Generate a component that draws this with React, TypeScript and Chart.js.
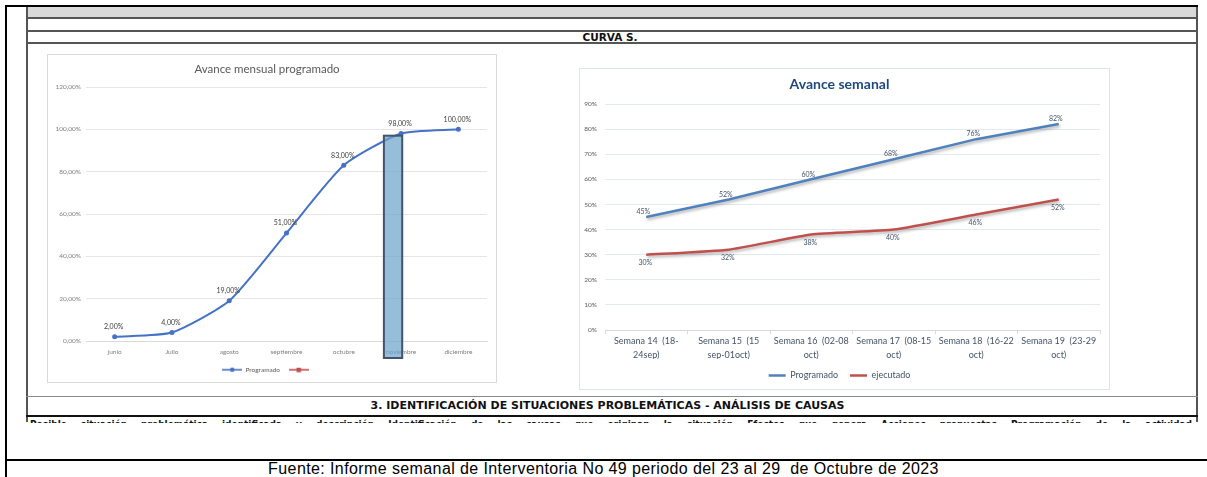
import React, { useEffect, useRef } from "react";
import { Chart, registerables } from "chart.js";

Chart.register(...registerables);

// ---------- Data ----------
const monthLabels = ["junio", "Julio", "agosto", "septiembre", "octubre", "noviembre", "diciembre"];
const monthlyProgramado = [2, 4, 19, 51, 83, 98, 100];
const monthlyEjecutado: (number | null)[] = [null, null, null, null, null, null, null];
const monthlyTickStep = 20;
const monthlyMax = 120;
const highlightedMonth = "noviembre";

const weekLabels = [
  ["Semana 14  (18-", "24sep)"],
  ["Semana 15  (15", "sep-01oct)"],
  ["Semana 16  (02-08", "oct)"],
  ["Semana 17  (08-15", "oct)"],
  ["Semana 18  (16-22", "oct)"],
  ["Semana 19  (23-29", "oct)"],
];
const weeklyProgramado = [45, 52, 60, 68, 76, 82];
const weeklyEjecutado = [30, 32, 38, 40, 46, 52];
const weeklyTickStep = 10;
const weeklyMax = 90;

const FONT = "Lato, 'Noto Sans', sans-serif";

function pctComma(v: number) {
  return v.toFixed(2).replace(".", ",") + "%";
}

function makeMarker(color: string, shape: "circle" | "square") {
  const c = document.createElement("canvas");
  c.width = 20;
  c.height = 8;
  const g = c.getContext("2d")!;
  g.strokeStyle = color;
  g.lineWidth = 1.6;
  g.beginPath();
  g.moveTo(0, 4);
  g.lineTo(20, 4);
  g.stroke();
  g.fillStyle = color;
  if (shape === "circle") {
    g.beginPath();
    g.arc(10, 4, 2.3, 0, Math.PI * 2);
    g.fill();
  } else {
    g.fillRect(8, 2, 4.5, 4.5);
  }
  return c;
}

function MonthlyChart() {
  const ref = useRef<HTMLCanvasElement>(null);
  useEffect(() => {
    const canvas = ref.current!;
    const blue = "#4472c4";
    const red = "#c0504d";
    const markers = [makeMarker(blue, "circle"), makeMarker(red, "square")];

    const labelsPlugin = {
      id: "monthlyValueLabels",
      afterDatasetsDraw(chart: any) {
        const ctx = chart.ctx;
        const meta = chart.getDatasetMeta(0);
        ctx.save();
        ctx.font = `7px ${FONT}`;
        ctx.fillStyle = "#404040";
        ctx.textAlign = "center";
        ctx.textBaseline = "middle";
        meta.data.forEach((pt: any, i: number) => {
          const v = monthlyProgramado[i];
          ctx.fillText(pctComma(v), pt.x - 1, pt.y - 10);
        });
        ctx.restore();
      },
    };

    const highlightPlugin = {
      id: "monthHighlight",
      afterDraw(chart: any) {
        const xs = chart.scales.x;
        const ys = chart.scales.y;
        const idx = monthLabels.indexOf(highlightedMonth);
        const cx = xs.getPixelForValue(idx);
        const step = xs.getPixelForValue(1) - xs.getPixelForValue(0);
        const left = cx - 0.3 * step;
        const right = cx + 0.02 * step;
        const top = ys.getPixelForValue(97);
        const bottom = ys.bottom + 17;
        const ctx = chart.ctx;
        ctx.save();
        ctx.fillStyle = "rgba(110,165,205,0.72)";
        ctx.fillRect(left, top, right - left, bottom - top);
        ctx.strokeStyle = "#44546a";
        ctx.lineWidth = 2;
        ctx.strokeRect(left, top, right - left, bottom - top);
        ctx.restore();
      },
    };

    const chart = new Chart(canvas, {
      type: "line",
      data: {
        labels: monthLabels,
        datasets: [
          {
            label: "Programado",
            data: monthlyProgramado,
            borderColor: blue,
            backgroundColor: blue,
            borderWidth: 2,
            pointRadius: 2.5,
            pointBackgroundColor: blue,
            pointBorderWidth: 0,
            tension: 0.2,
          },
          {
            label: "",
            data: monthlyEjecutado,
            borderColor: red,
            backgroundColor: red,
            borderWidth: 2,
            pointStyle: "rect",
            pointRadius: 2.5,
          },
        ],
      },
      options: {
        responsive: false,
        animation: false,
        layout: { padding: { left: 0, right: 10, top: 0, bottom: 0 } },
        scales: {
          x: {
            offset: true,
            grid: { display: false, drawTicks: false },
            border: { display: true, color: "#d9d9d9" },
            ticks: {
              padding: 7,
              color: "#7f7f7f",
              font: { family: FONT, size: 6.5 },
              autoSkip: false,
              maxRotation: 0,
            },
            afterFit: (s: any) => {
              s.height = 17;
            },
          },
          y: {
            min: 0,
            max: monthlyMax,
            ticks: {
              stepSize: monthlyTickStep,
              padding: 5,
              color: "#7f7f7f",
              font: { family: FONT, size: 6.5 },
              callback: (v: any) => pctComma(Number(v)),
            },
            grid: { color: "#e6e6e6", drawTicks: false },
            border: { display: false },
            afterFit: (s: any) => {
              s.width = 39;
            },
          },
        },
        plugins: {
          title: {
            display: true,
            text: "Avance mensual programado",
            color: "#595959",
            font: { family: FONT, size: 11.5, weight: "normal" },
            padding: { top: 8.1, bottom: 11.1 },
          },
          legend: {
            position: "bottom",
            labels: {
              usePointStyle: true,
              pointStyleWidth: 20,
              padding: 8.5,
              color: "#595959",
              font: { family: FONT, size: 6.5 },
              generateLabels: (c: any) =>
                (Chart.defaults.plugins.legend.labels as any)
                  .generateLabels(c)
                  .map((it: any, i: number) => ({ ...it, pointStyle: markers[i] })),
            },
          },
          tooltip: { enabled: false },
        },
      } as any,
      plugins: [labelsPlugin, highlightPlugin],
    });
    return () => chart.destroy();
  }, []);
  return (
    <canvas
      ref={ref}
      width={450}
      height={329}
      style={{ position: "absolute", left: 47, top: 54, width: 450, height: 329 }}
    />
  );
}

function WeeklyChart() {
  const ref = useRef<HTMLCanvasElement>(null);
  useEffect(() => {
    const canvas = ref.current!;
    const blue = "#4f81bd";
    const red = "#c0504d";

    const shadowPlugin = {
      id: "lineShadow",
      beforeDatasetsDraw(chart: any) {
        const c = chart.ctx;
        c.save();
        c.shadowColor = "rgba(0,0,0,0.3)";
        c.shadowBlur = 3;
        c.shadowOffsetX = 1;
        c.shadowOffsetY = 2;
      },
      afterDatasetsDraw(chart: any) {
        chart.ctx.restore();
      },
    };

    const labelsPlugin = {
      id: "weeklyValueLabels",
      afterDatasetsDraw(chart: any) {
        const ctx = chart.ctx;
        ctx.save();
        ctx.font = `7px ${FONT}`;
        ctx.fillStyle = "#44546a";
        ctx.textAlign = "center";
        ctx.textBaseline = "middle";
        chart.getDatasetMeta(0).data.forEach((pt: any, i: number) => {
          ctx.fillText(weeklyProgramado[i] + "%", pt.x - 3, pt.y - 5);
        });
        chart.getDatasetMeta(1).data.forEach((pt: any, i: number) => {
          ctx.fillText(weeklyEjecutado[i] + "%", pt.x - 1, pt.y + 8);
        });
        ctx.restore();
      },
    };

    const chart = new Chart(canvas, {
      type: "line",
      data: {
        labels: weekLabels as any,
        datasets: [
          {
            label: "Programado",
            data: weeklyProgramado,
            borderColor: blue,
            backgroundColor: blue,
            borderWidth: 2.5,
            pointRadius: 0,
            pointStyle: "line",
            tension: 0,
          },
          {
            label: "ejecutado",
            data: weeklyEjecutado,
            borderColor: red,
            backgroundColor: red,
            borderWidth: 2.5,
            pointRadius: 0,
            pointStyle: "line",
            tension: 0.15,
          },
        ],
      },
      options: {
        responsive: false,
        animation: false,
        layout: { padding: { left: 0, right: 10, top: 0, bottom: 0 } },
        scales: {
          x: {
            offset: true,
            grid: {
              display: true,
              drawOnChartArea: false,
              drawTicks: true,
              tickLength: 4,
              offset: true,
              color: "#d9d9d9",
            },
            border: { display: true, color: "#d9d9d9" },
            ticks: {
              padding: 0,
              color: "#44546a",
              font: { family: FONT, size: 9, lineHeight: 1.55 },
              autoSkip: false,
              maxRotation: 0,
            },
            afterFit: (s: any) => {
              s.height = 29;
            },
          },
          y: {
            min: 0,
            max: weeklyMax,
            ticks: {
              stepSize: weeklyTickStep,
              padding: 8,
              color: "#595959",
              font: { family: FONT, size: 6.5 },
              callback: (v: any) => v + "%",
            },
            grid: { color: "#e4e9f0", drawTicks: false },
            border: { display: false },
            afterFit: (s: any) => {
              s.width = 26;
            },
          },
        },
        plugins: {
          title: {
            display: true,
            text: "Avance semanal",
            color: "#1f497d",
            font: { family: FONT, size: 14, weight: "bold" },
            padding: { top: 7.6, bottom: 11.6 },
          },
          legend: {
            position: "bottom",
            labels: {
              usePointStyle: true,
              pointStyleWidth: 17,
              padding: 12,
              color: "#44546a",
              font: { family: FONT, size: 9 },
            },
          },
          tooltip: { enabled: false },
        },
      } as any,
      plugins: [shadowPlugin, labelsPlugin],
    });
    return () => chart.destroy();
  }, []);
  return (
    <canvas
      ref={ref}
      width={531}
      height={322}
      style={{ position: "absolute", left: 579, top: 68, width: 531, height: 322 }}
    />
  );
}

const abs = (s: React.CSSProperties): React.CSSProperties => ({ position: "absolute", ...s });

export default function App() {
  const headFont = "'DejaVu Sans', sans-serif";
  return (
    <div
      style={{
        position: "fixed",
        left: 0,
        top: 0,
        width: 1207,
        height: 477,
        background: "#ffffff",
        overflow: "hidden",
      }}
    >
      {/* table frame */}
      <div style={abs({ left: 27, top: 7, width: 1169, height: 11, background: "#d9d9d9" })} />
      <div style={abs({ left: 26, top: 7, width: 2, height: 415, background: "#555" })} />
      <div style={abs({ left: 1196, top: 7, width: 2, height: 415, background: "#555" })} />
      <div style={abs({ left: 26, top: 17, width: 1172, height: 2, background: "#555" })} />
      <div style={abs({ left: 26, top: 30, width: 1172, height: 2, background: "#555" })} />
      <div style={abs({ left: 26, top: 42, width: 1172, height: 2, background: "#555" })} />
      <div style={abs({ left: 26, top: 396, width: 1172, height: 1, background: "#8a8a8a" })} />
      <div style={abs({ left: 26, top: 415, width: 1172, height: 2, background: "#111" })} />

      {/* outer frame */}
      <div style={abs({ left: 5, top: 5, width: 1193, height: 2, background: "#000" })} />
      <div style={abs({ left: 5, top: 5, width: 2, height: 472, background: "#000" })} />
      <div style={abs({ left: 5, top: 459, width: 1202, height: 2, background: "#000" })} />

      <div
        style={abs({
          left: 27,
          top: 31,
          width: 1166,
          height: 12,
          lineHeight: "12px",
          textAlign: "center",
          fontFamily: headFont,
          fontWeight: "bold",
          fontSize: 10.5,
          color: "#111",
        })}
      >
        CURVA S.
      </div>

      {/* chart boxes */}
      <div
        style={abs({
          left: 47,
          top: 54,
          width: 450,
          height: 329,
          border: "1px solid #d9d9d9",
          boxSizing: "border-box",
        })}
      />
      <div
        style={abs({
          left: 579,
          top: 68,
          width: 531,
          height: 322,
          border: "1px solid #dde4ec",
          boxSizing: "border-box",
        })}
      />
      <MonthlyChart />
      <WeeklyChart />

      <div
        style={abs({
          left: 27,
          top: 397,
          width: 1161,
          height: 18,
          lineHeight: "18px",
          textAlign: "center",
          fontFamily: headFont,
          fontWeight: "bold",
          fontSize: 11,
          color: "#111",
        })}
      >
        3. IDENTIFICACIÓN DE SITUACIONES PROBLEMÁTICAS - ANÁLISIS DE CAUSAS
      </div>

      <div style={abs({ left: 30, top: 419, width: 1162, height: 4, overflow: "hidden" })}>
        <div
          style={abs({
            left: 0,
            top: 0,
            width: 1162,
            lineHeight: "12px",
            fontFamily: "'DejaVu Sans Condensed', 'DejaVu Sans', sans-serif",
            fontWeight: "bold",
            fontSize: 10,
            color: "#111",
            whiteSpace: "nowrap",
            textAlign: "justify",
            textAlignLast: "justify",
          } as React.CSSProperties)}
        >
          Posible situación problemática identificada y descripción Identificación de las causas que originan la situación Efectos que genera Acciones propuestas Programación de la actividad
        </div>
      </div>

      <div
        style={abs({
          left: 0,
          top: 461,
          width: 1207,
          height: 16,
          lineHeight: "16px",
          textAlign: "center",
          fontFamily: "'Liberation Sans', Arial, sans-serif",
          fontSize: 16,
          letterSpacing: 0.4,
          color: "#000",
        })}
      >
        Fuente: Informe semanal de Interventoria No 49 periodo del 23 al 29&nbsp; de Octubre de 2023
      </div>
    </div>
  );
}
